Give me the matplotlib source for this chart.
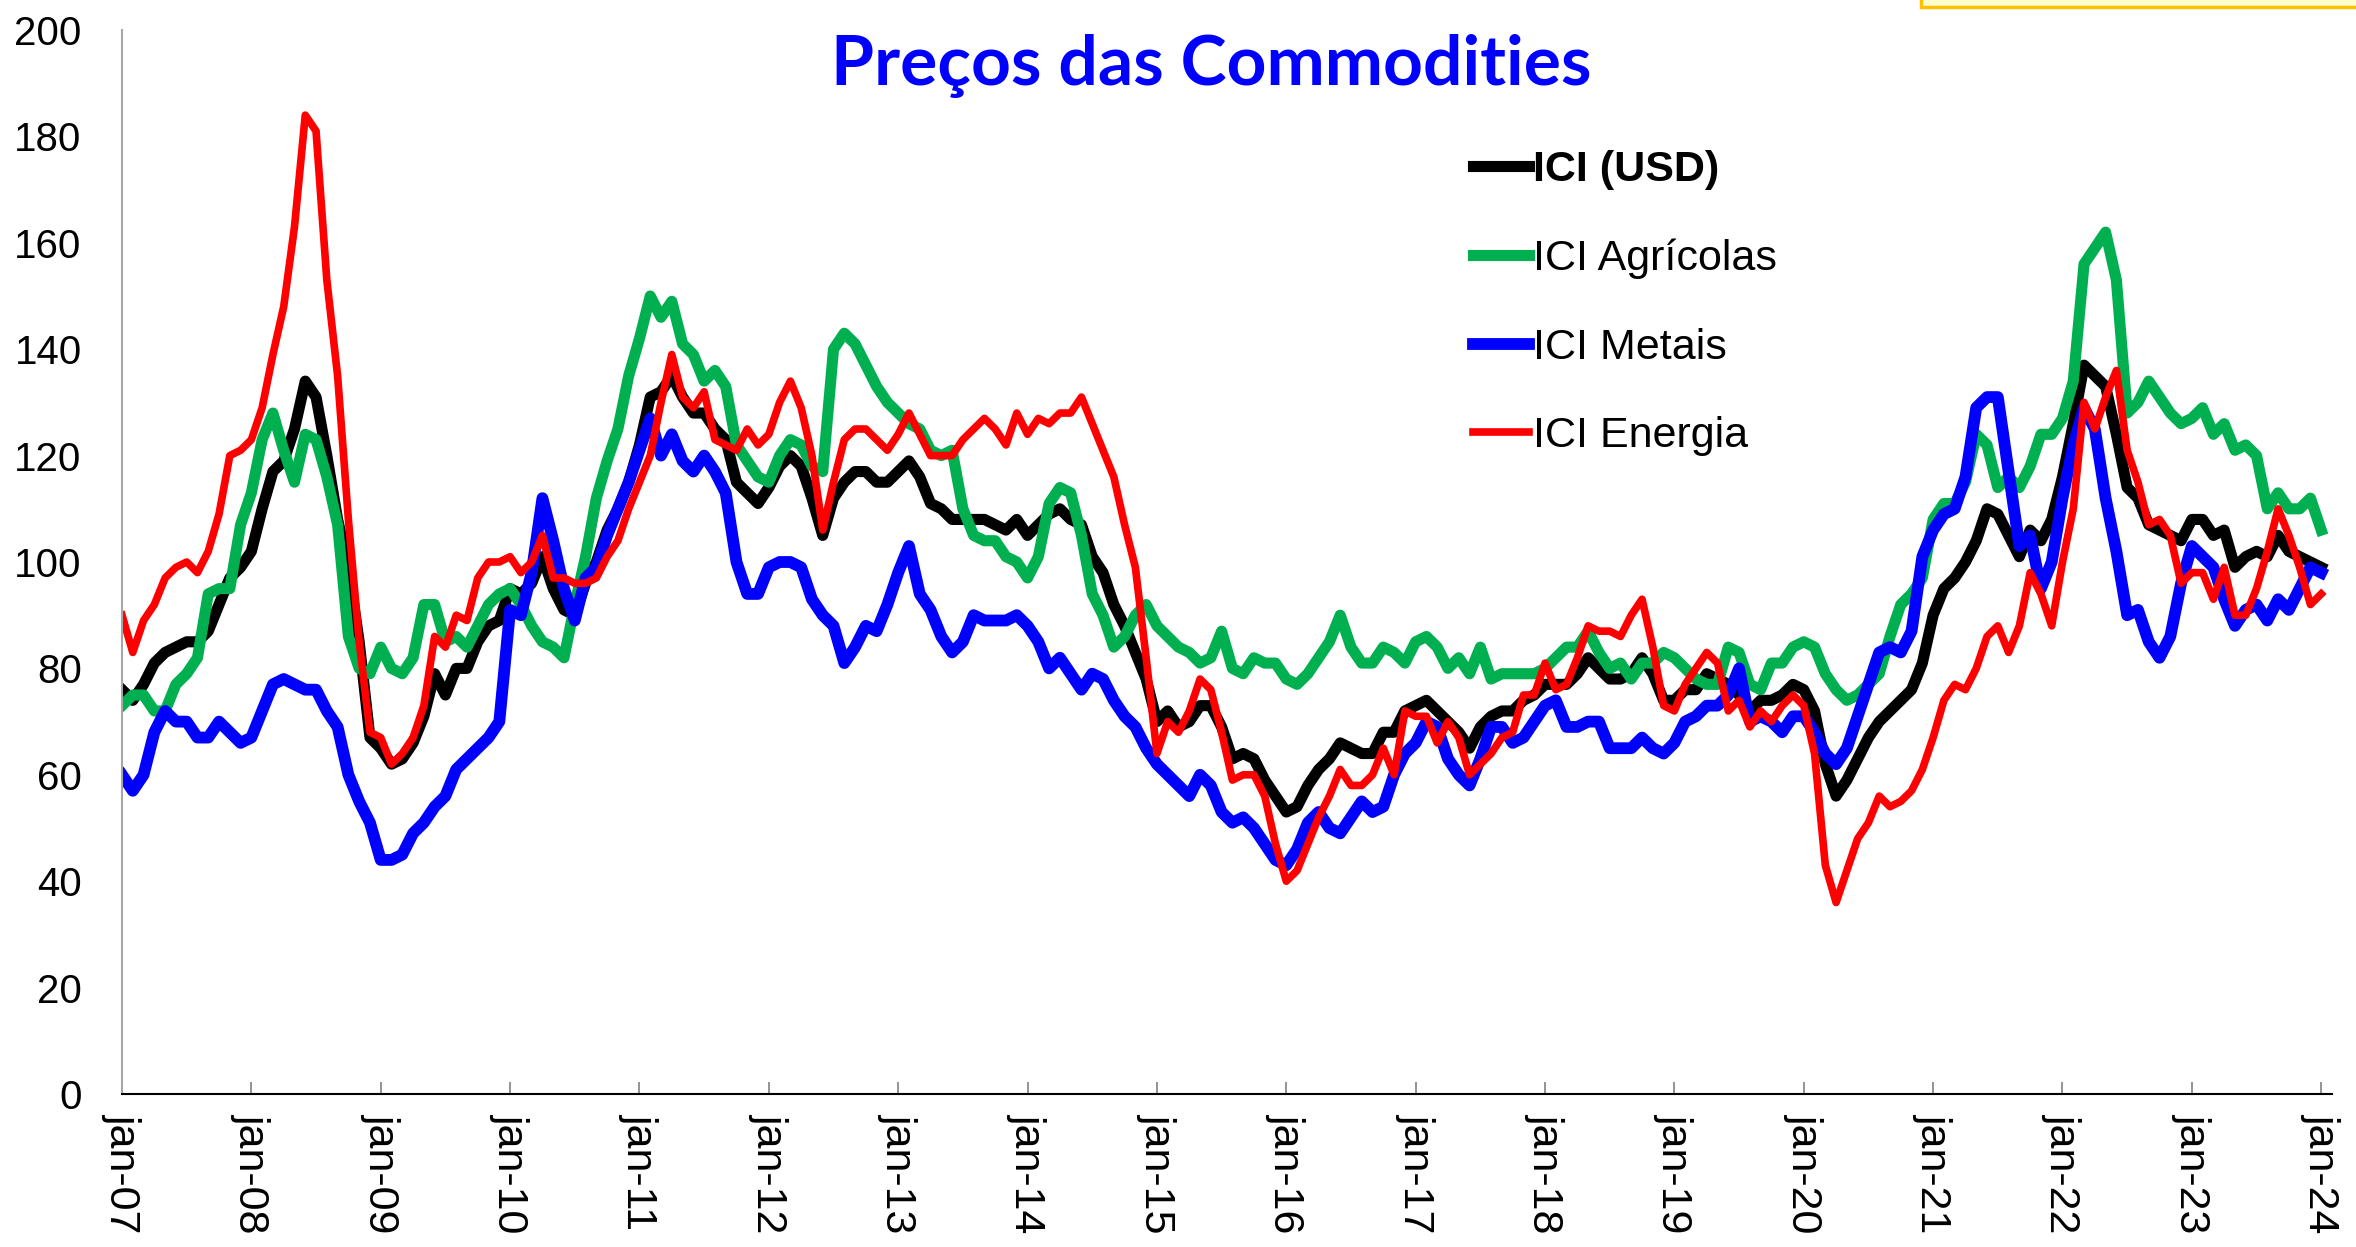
import numpy as np
import matplotlib
matplotlib.use("Agg")
import matplotlib.pyplot as plt
from matplotlib.patches import Rectangle

plt.rcParams['font.family'] = ['Liberation Sans', 'DejaVu Sans']

# monthly index values, jan-07 .. jan-24
usd = [76, 74, 77, 81, 83, 84, 85, 85, 87, 92, 97, 99,
       102, 110, 117, 119, 125, 134, 131, 120, 108, 99, 85, 67,
       65, 62, 63, 66, 71, 79, 75, 80, 80, 85, 88, 89,
       95, 94, 96, 101, 95, 91, 90, 96, 100, 106, 110, 115,
       122, 131, 132, 135, 131, 128, 128, 125, 123, 115, 113, 111,
       114, 118, 120, 118, 112, 105, 112, 115, 117, 117, 115, 115,
       117, 119, 116, 111, 110, 108, 108, 108, 108, 107, 106, 108,
       105, 107, 109, 110, 108, 107, 101, 98, 92, 88, 83, 78,
       70, 72, 69, 70, 73, 73, 69, 63, 64, 63, 59, 56,
       53, 54, 58, 61, 63, 66, 65, 64, 64, 68, 68, 72,
       73, 74, 72, 70, 68, 65, 69, 71, 72, 72, 74, 75,
       77, 77, 77, 79, 82, 80, 78, 78, 79, 82, 79, 74,
       74, 76, 76, 79, 78, 77, 75, 72, 74, 74, 75, 77,
       76, 72, 62, 56, 59, 63, 67, 70, 72, 74, 76, 81,
       90, 95, 97, 100, 104, 110, 109, 105, 101, 106, 104, 108,
       116, 126, 137, 135, 133, 124, 114, 112, 107, 106, 105, 104,
       108, 108, 105, 106, 99, 101, 102, 101, 105, 102, 101, 100,
       99]

agricolas = [73, 75, 75, 72, 72, 77, 79, 82, 94, 95, 95, 107,
             113, 123, 128, 121, 115, 124, 123, 116, 107, 86, 80, 79,
             84, 80, 79, 82, 92, 92, 85, 86, 84, 88, 92, 94,
             95, 92, 88, 85, 84, 82, 92, 101, 112, 119, 125, 135,
             142, 150, 146, 149, 141, 139, 134, 136, 133, 122, 119, 116,
             115, 120, 123, 122, 118, 117, 140, 143, 141, 137, 133, 130,
             128, 126, 125, 121, 120, 121, 110, 105, 104, 104, 101, 100,
             97, 101, 111, 114, 113, 105, 94, 90, 84, 86, 90, 92,
             88, 86, 84, 83, 81, 82, 87, 80, 79, 82, 81, 81,
             78, 77, 79, 82, 85, 90, 84, 81, 81, 84, 83, 81,
             85, 86, 84, 80, 82, 79, 84, 78, 79, 79, 79, 79,
             80, 82, 84, 84, 87, 83, 80, 81, 78, 81, 81, 83,
             82, 80, 78, 77, 77, 84, 83, 77, 76, 81, 81, 84,
             85, 84, 79, 76, 74, 75, 77, 79, 86, 92, 94, 97,
             108, 111, 111, 115, 124, 122, 114, 116, 114, 118, 124, 124,
             127, 134, 156, 159, 162, 153, 128, 130, 134, 131, 128, 126,
             127, 129, 124, 126, 121, 122, 120, 110, 113, 110, 110, 112,
             106]

metais = [60, 57, 60, 68, 72, 70, 70, 67, 67, 70, 68, 66,
          67, 72, 77, 78, 77, 76, 76, 72, 69, 60, 55, 51,
          44, 44, 45, 49, 51, 54, 56, 61, 63, 65, 67, 70,
          91, 90, 98, 112, 104, 95, 89, 97, 99, 105, 110, 115,
          121, 127, 120, 124, 119, 117, 120, 117, 113, 100, 94, 94,
          99, 100, 100, 99, 93, 90, 88, 81, 84, 88, 87, 92,
          98, 103, 94, 91, 86, 83, 85, 90, 89, 89, 89, 90,
          88, 85, 80, 82, 79, 76, 79, 78, 74, 71, 69, 65,
          62, 60, 58, 56, 60, 58, 53, 51, 52, 50, 47, 44,
          43, 46, 51, 53, 50, 49, 52, 55, 53, 54, 60, 64,
          66, 70, 69, 63, 60, 58, 63, 69, 69, 66, 67, 70,
          73, 74, 69, 69, 70, 70, 65, 65, 65, 67, 65, 64,
          66, 70, 71, 73, 73, 75, 80, 70, 71, 70, 68, 71,
          71, 68, 64, 62, 65, 71, 77, 83, 84, 83, 87, 101,
          106, 109, 110, 116, 129, 131, 131, 117, 103, 105, 95, 100,
          112, 122, 129, 125, 112, 102, 90, 91, 85, 82, 86, 96,
          103, 101, 99, 93, 88, 91, 92, 89, 93, 91, 95, 99,
          98]

energia = [90, 83, 89, 92, 97, 99, 100, 98, 102, 109, 120, 121,
           123, 129, 139, 148, 163, 184, 181, 153, 135, 108, 85, 68,
           67, 62, 64, 67, 73, 86, 84, 90, 89, 97, 100, 100,
           101, 98, 100, 105, 97, 97, 96, 96, 97, 101, 104, 110,
           115, 120, 130, 139, 131, 129, 132, 123, 122, 121, 125, 122,
           124, 130, 134, 129, 120, 106, 115, 123, 125, 125, 123, 121,
           124, 128, 124, 120, 120, 120, 123, 125, 127, 125, 122, 128,
           124, 127, 126, 128, 128, 131, 126, 121, 116, 107, 99, 82,
           64, 70, 68, 72, 78, 76, 68, 59, 60, 60, 56, 47,
           40, 42, 47, 52, 56, 61, 58, 58, 60, 65, 60, 72,
           71, 71, 66, 70, 67, 60, 62, 64, 67, 68, 75, 75,
           81, 76, 77, 82, 88, 87, 87, 86, 90, 93, 84, 73,
           72, 77, 80, 83, 81, 72, 74, 69, 72, 70, 73, 75,
           73, 64, 43, 36, 42, 48, 51, 56, 54, 55, 57, 61,
           67, 74, 77, 76, 80, 86, 88, 83, 88, 98, 94, 88,
           100, 110, 130, 125, 131, 136, 121, 115, 107, 108, 105, 96,
           98, 98, 93, 99, 90, 90, 95, 102, 110, 105, 99, 92,
           94]

tick_labels = ['jan-07', 'jan-08', 'jan-09', 'jan-10', 'jan-11', 'jan-12',
               'jan-13', 'jan-14', 'jan-15', 'jan-16', 'jan-17', 'jan-18',
               'jan-19', 'jan-20', 'jan-21', 'jan-22', 'jan-23', 'jan-24']

W, H = 2356, 1247
fig = plt.figure(figsize=(W / 100, H / 100), dpi=100)
ax = fig.add_axes([122 / W, 153 / H, 2210 / W, 1064 / H])

x = np.arange(len(usd))
l1, = ax.plot(x, usd, color='black', lw=8, label='ICI (USD)')
l2, = ax.plot(x, agricolas, color='#00B050', lw=8, label='ICI Agrícolas')
l3, = ax.plot(x, metais, color='#0000FF', lw=8.5, label='ICI Metais')
l4, = ax.plot(x, energia, color='#FF0000', lw=5.5, label='ICI Energia')

ax.set_xlim(0, 205)
ax.set_ylim(0, 200)
ax.set_yticks(range(0, 201, 20))
ax.set_xticks(range(0, 205, 12))
ax.set_xticklabels(tick_labels, rotation=270, ha='center', va='top')

for s in ['top', 'right']:
    ax.spines[s].set_visible(False)
ax.spines['left'].set_color('#A6A6A6')
ax.spines['left'].set_linewidth(1.5)
ax.spines['bottom'].set_color('black')
ax.spines['bottom'].set_linewidth(1.5)

ax.tick_params(axis='y', length=0, pad=29, labelsize=29)
ax.tick_params(axis='x', direction='in', length=9, width=1.2, color='#808080',
               pad=14, labelsize=31)

leg = ax.legend(handles=[l1, l2, l3, l4], loc='upper left',
                bbox_to_anchor=(1473 / W, 1 - 150 / H), bbox_transform=fig.transFigure,
                frameon=False, fontsize=31, handlelength=1.3, handletextpad=0.1,
                labelspacing=1.13, borderpad=0, borderaxespad=0)
leg.get_texts()[0].set_fontweight('bold')

fig.text(1211 / W, 1 - 66 / H, 'Preços das Commodities', color='#0000FF',
         fontsize=50, fontweight='bold', family='Lato', ha='center', va='center')

# small yellow box cut off at the top right
fig.patches.append(Rectangle((1921 / W, 1 - 7 / H), 0.3, 0.05, transform=fig.transFigure,
                             facecolor='#FFFFCC', edgecolor='#FFC000', lw=2.5))

fig.savefig('out.png', dpi=100)
